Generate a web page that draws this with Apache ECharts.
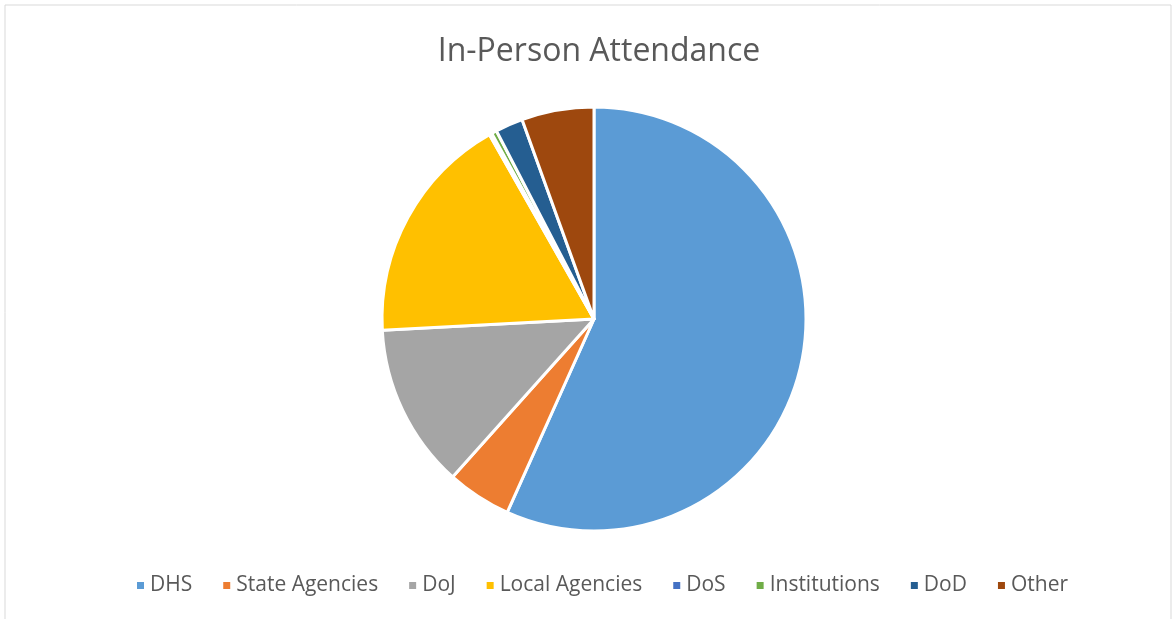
<!DOCTYPE html>
<html>
<head>
<meta charset="utf-8">
<script src="https://cdn.jsdelivr.net/npm/echarts@6/dist/echarts.min.js"></script>
<style>
  html, body { margin: 0; padding: 0; background: #fff; }
  #chart { width: 1175px; height: 619px; }
</style>
</head>
<body>
<div id="chart"></div>
<script>
// categories and shares (percent)
var categories = ["DHS", "State Agencies", "DoJ", "Local Agencies", "DoS", "Institutions", "DoD", "Other"];
var shares = [56.6, 4.9, 12.5, 17.6, 0.2, 0.4, 2.1, 5.5];
var colors = ["#5B9BD5", "#ED7D31", "#A5A5A5", "#FFC000", "#4472C4", "#70AD47", "#255E91", "#9E480E"];

var myChart = echarts.init(document.getElementById("chart"));

var pieData = categories.map(function (name, i) {
  return { name: name, value: shares[i] };
});

myChart.setOption({
  animation: false,
  color: colors,
  title: {
    text: "In-Person Attendance",
    left: 594,
    textAlign: "center",
    top: 31,
    textStyle: { fontFamily: "Open Sans", fontSize: 32, fontWeight: "normal", color: "#595959" }
  },
  legend: {
    bottom: 18,
    left: 130,
    icon: "rect",
    itemWidth: 9,
    itemHeight: 9,
    itemGap: 29,
    textStyle: { fontFamily: "Open Sans", fontSize: 21, color: "#595959" },
    data: categories
  },
  graphic: [{
    type: "rect",
    shape: { x: 5, y: 5, width: 1166, height: 620 },
    style: { fill: "none", stroke: "#d9d9d9", lineWidth: 1 },
    silent: true
  }],
  series: [{
    type: "pie",
    center: [594, 319],
    radius: [0, 212],
    startAngle: 90,
    clockwise: true,
    label: { show: false },
    labelLine: { show: false },
    itemStyle: { borderColor: "#fff", borderWidth: 3 },
    emphasis: { disabled: true },
    data: pieData
  }]
});
</script>
</body>
</html>
